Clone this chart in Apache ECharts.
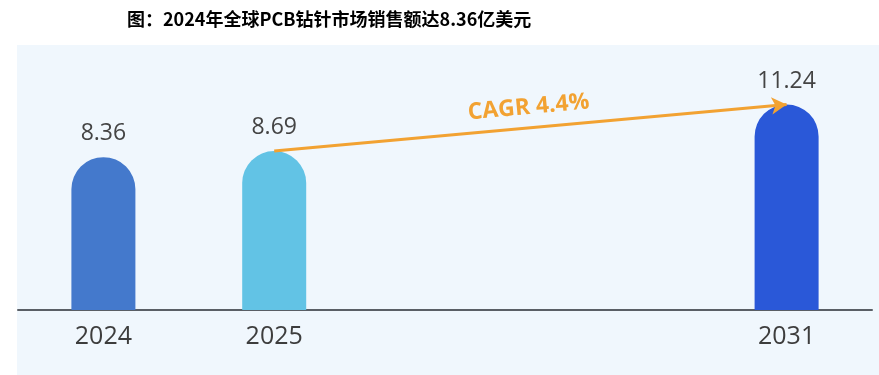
<!DOCTYPE html>
<html>
<head>
<meta charset="utf-8">
<script src="https://cdn.jsdelivr.net/npm/echarts@6/dist/echarts.min.js"></script>
<style>
html,body{margin:0;padding:0;background:#fff;}
#c{width:879px;height:375px;}
</style>
</head>
<body>
<div id="c"></div>
<script>
const titleText = '图：2024年全球PCB钻针市场销售额达8.36亿美元';
const categories = ['2024', '2025', ' ', '  ', '2031'];
const values = [8.36, 8.69, null, null, 11.24];
const barColors = ['#4479cc', '#62c3e5', null, null, '#2a58d8'];
const cagrLabel = 'CAGR 4.4%';
const cagrFrom = ['2025', 8.69];
const cagrTo = ['2031', 11.24];

const chart = echarts.init(document.getElementById('c'), null, {renderer: 'canvas'});
chart.setOption({
  backgroundColor: '#ffffff',
  animation: false,
  title: {
    text: titleText,
    left: 122,
    top: 5,
    textStyle: {
      fontFamily: '"Noto Sans CJK SC", sans-serif',
      fontWeight: 'bold',
      fontSize: 18,
      color: '#000000'
    }
  },
  graphic: [{
    type: 'rect',
    z: -10,
    silent: true,
    shape: {x: 17, y: 45, width: 862, height: 330},
    style: {fill: '#f0f7fd'}
  }],
  grid: {left: 18, right: 7, top: 54, bottom: 65},
  xAxis: {
    type: 'category',
    data: categories,
    axisLine: {show: true, lineStyle: {color: '#5a5f66', width: 2}},
    axisTick: {show: false},
    axisLabel: {
      fontFamily: '"Open Sans", sans-serif',
      fontSize: 25,
      color: '#3d3d3d',
      margin: 14
    }
  },
  yAxis: {
    type: 'value',
    min: 0,
    max: 14,
    show: false,
    splitLine: {show: false}
  },
  series: [{
    type: 'bar',
    barWidth: 64,
    data: values.map((v, i) => v == null ? null : ({
      value: v,
      itemStyle: {color: barColors[i], borderRadius: [32, 32, 0, 0]}
    })),
    label: {
      show: true,
      position: 'top',
      distance: 12,
      fontFamily: '"Open Sans", sans-serif',
      fontSize: 23,
      color: '#444444'
    },
    markLine: {
      silent: true,
      symbol: ['none', 'arrow'],
      symbolSize: [13, 15],
      lineStyle: {color: '#f2a232', width: 3, type: 'solid'},
      label: {
        show: true,
        formatter: cagrLabel,
        position: 'insideMiddleTop',
        distance: 9,
        fontFamily: '"Open Sans", sans-serif',
        fontWeight: 'bold',
        fontSize: 23,
        color: '#f2a232'
      },
      data: [[{coord: cagrFrom}, {coord: cagrTo}]]
    }
  }]
});
</script>
</body>
</html>
